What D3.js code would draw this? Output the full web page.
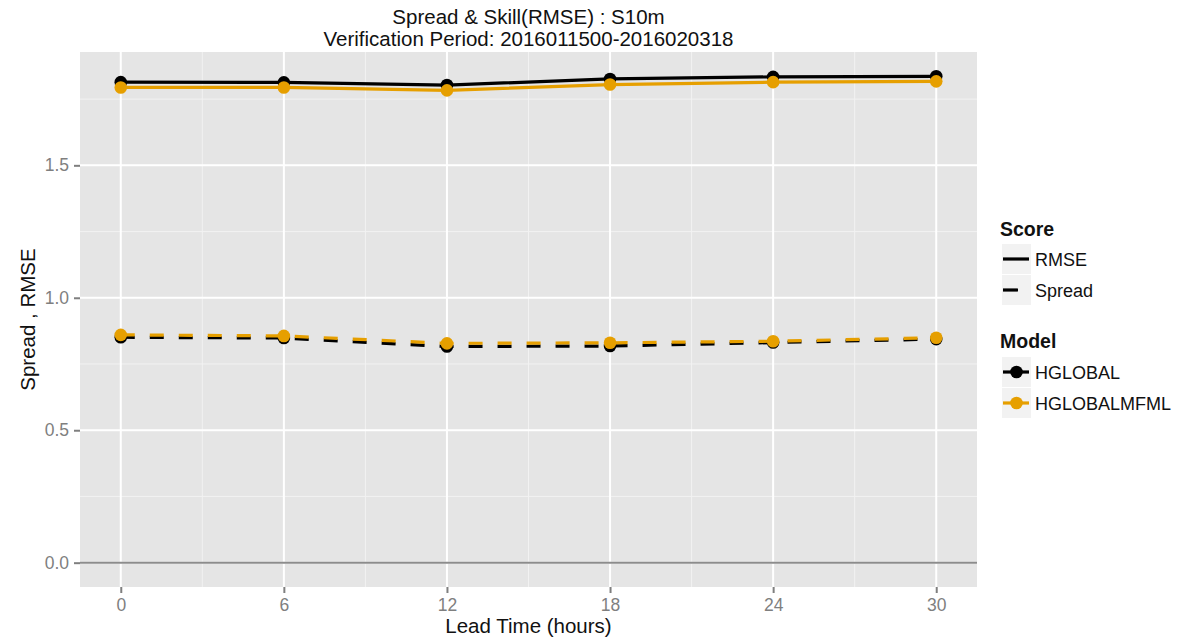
<!DOCTYPE html>
<html>
<head>
<meta charset="utf-8">
<script src="https://d3js.org/d3.v7.min.js"></script>
<style>
  body { margin: 0; background: #fff; }
  svg { font-family: "Liberation Sans", Arial, sans-serif; }
</style>
</head>
<body>
<svg id="chart" width="1190" height="640"></svg>
<script>
var lead_hours = [0, 6, 12, 18, 24, 30];
var x_ticks = [0, 6, 12, 18, 24, 30];
var y_ticks = [0.0, 0.5, 1.0, 1.5];
var models = ["HGLOBAL", "HGLOBALMFML"];
var scores = ["RMSE", "Spread"];
var model_colors = {"HGLOBAL": "#000000", "HGLOBALMFML": "#E69F00"};

var rmse_hglobal = [1.814, 1.813, 1.803, 1.826, 1.834, 1.836];
var rmse_hglobalmfml = [1.794, 1.794, 1.783, 1.805, 1.814, 1.817];
var spread_hglobal = [0.851, 0.848, 0.816, 0.818, 0.831, 0.844];
var spread_hglobalmfml = [0.860, 0.856, 0.828, 0.830, 0.836, 0.849];

var series = [
    {model: "HGLOBAL", score: "RMSE", values: rmse_hglobal},
    {model: "HGLOBAL", score: "Spread", values: spread_hglobal},
    {model: "HGLOBALMFML", score: "RMSE", values: rmse_hglobalmfml},
    {model: "HGLOBALMFML", score: "Spread", values: spread_hglobalmfml}
];

var svg = d3.select("svg#chart");
var panel = {left: 80, right: 977, top: 52, bottom: 587};

var all_vals = [].concat(rmse_hglobal, rmse_hglobalmfml, spread_hglobal, spread_hglobalmfml, [0]);
var ymax = d3.max(all_vals);
var ymin = 0;
var ypad = (ymax - ymin) * 0.05;
var xpad = 30 * 0.05;

var xscale = d3.scaleLinear()
    .domain([-xpad, 30 + xpad])
    .range([panel.left, panel.right]);
var yscale = d3.scaleLinear()
    .domain([ymin - ypad, ymax + ypad])
    .range([panel.bottom, panel.top]);

// panel background
svg.append("rect")
    .attr("x", panel.left).attr("y", panel.top)
    .attr("width", panel.right - panel.left)
    .attr("height", panel.bottom - panel.top)
    .attr("fill", "#e5e5e5");

// minor grid
var grid = svg.append("g");
[0.25, 0.75, 1.25, 1.75].forEach(function(v) {
    grid.append("line")
        .attr("x1", panel.left).attr("x2", panel.right)
        .attr("y1", yscale(v)).attr("y2", yscale(v))
        .attr("stroke", "#f2f2f2").attr("stroke-width", 1);
});
[3, 9, 15, 21, 27].forEach(function(v) {
    grid.append("line")
        .attr("y1", panel.top).attr("y2", panel.bottom)
        .attr("x1", xscale(v)).attr("x2", xscale(v))
        .attr("stroke", "#f2f2f2").attr("stroke-width", 1);
});
// major grid
y_ticks.forEach(function(v) {
    grid.append("line")
        .attr("x1", panel.left).attr("x2", panel.right)
        .attr("y1", yscale(v)).attr("y2", yscale(v))
        .attr("stroke", "#ffffff").attr("stroke-width", 2);
});
x_ticks.forEach(function(v) {
    grid.append("line")
        .attr("y1", panel.top).attr("y2", panel.bottom)
        .attr("x1", xscale(v)).attr("x2", xscale(v))
        .attr("stroke", "#ffffff").attr("stroke-width", 2);
});

// zero line
svg.append("line")
    .attr("x1", panel.left).attr("x2", panel.right)
    .attr("y1", yscale(0)).attr("y2", yscale(0))
    .attr("stroke", "#8c8c8c").attr("stroke-width", 2);

// lines and points
var line = d3.line()
    .x(function(d, i) { return xscale(lead_hours[i]); })
    .y(function(d) { return yscale(d); });

var g = svg.append("g").attr("class", "line_chart_paths");
models.forEach(function(model) {
    series.filter(function(s) { return s.model == model; }).forEach(function(s) {
        g.append("path")
            .datum(s.values)
            .attr("fill", "none")
            .attr("stroke", model_colors[model])
            .attr("stroke-width", 3.2)
            .attr("stroke-dasharray", s.score == "Spread" ? "14,15" : null)
            .attr("d", line);
        g.selectAll(null)
            .data(s.values)
            .enter().append("circle")
            .attr("cx", function(d, i) { return xscale(lead_hours[i]); })
            .attr("cy", function(d) { return yscale(d); })
            .attr("r", 6.3)
            .attr("fill", model_colors[model]);
    });
});

// axes
var xaxis = d3.axisBottom(xscale)
    .tickValues(x_ticks)
    .tickFormat(d3.format("d"))
    .tickSize(6)
    .tickSizeOuter(0);
var xg = svg.append("g")
    .attr("transform", "translate(0," + panel.bottom + ")")
    .call(xaxis);
xg.select(".domain").remove();
xg.selectAll(".tick line").attr("stroke", "#7f7f7f").attr("stroke-width", 2);
xg.selectAll(".tick text").attr("fill", "#7f7f7f").attr("font-size", 17.5)
    .attr("y", 12).attr("dy", "0.71em");

var yaxis = d3.axisLeft(yscale)
    .tickValues(y_ticks)
    .tickFormat(d3.format(".1f"))
    .tickSize(6)
    .tickSizeOuter(0);
var yg = svg.append("g")
    .attr("transform", "translate(" + panel.left + ",0)")
    .call(yaxis);
yg.select(".domain").remove();
yg.selectAll(".tick line").attr("stroke", "#7f7f7f").attr("stroke-width", 2);
yg.selectAll(".tick text").attr("fill", "#7f7f7f").attr("font-size", 17.5).attr("x", -11);

// titles
var cx = (panel.left + panel.right) / 2;
svg.append("text").attr("x", cx).attr("y", 24)
    .attr("text-anchor", "middle").attr("font-size", 20.5).attr("fill", "#111")
    .text("Spread & Skill(RMSE) : S10m");
svg.append("text").attr("x", cx).attr("y", 46)
    .attr("text-anchor", "middle").attr("font-size", 20.5).attr("fill", "#111")
    .text("Verification Period: 2016011500-2016020318");
svg.append("text").attr("x", cx).attr("y", 633)
    .attr("text-anchor", "middle").attr("font-size", 20.5).attr("fill", "#111")
    .text("Lead Time (hours)");
svg.append("text")
    .attr("transform", "translate(35," + ((panel.top + panel.bottom) / 2) + ") rotate(-90)")
    .attr("text-anchor", "middle").attr("font-size", 20.5).attr("fill", "#111")
    .text("Spread , RMSE");

// legend
var lg = svg.append("g").attr("transform", "translate(1000,0)");
lg.append("text").attr("x", 0).attr("y", 236)
    .attr("font-size", 19.5).attr("font-weight", "bold").attr("fill", "#111").text("Score");
scores.forEach(function(sc, i) {
    var y = 244 + i * 31;
    lg.append("rect").attr("x", 2).attr("y", y).attr("width", 29).attr("height", 30).attr("fill", "#f2f2f2");
    lg.append("line").attr("x1", 3).attr("x2", sc == "Spread" ? 18 : 29)
        .attr("y1", y + 15).attr("y2", y + 15)
        .attr("stroke", "#000").attr("stroke-width", 3.2);
    lg.append("text").attr("x", 35).attr("y", y + 21.5)
        .attr("font-size", 18).attr("fill", "#111").text(sc);
});
lg.append("text").attr("x", 0).attr("y", 348)
    .attr("font-size", 19.5).attr("font-weight", "bold").attr("fill", "#111").text("Model");
models.forEach(function(m, i) {
    var y = 357 + i * 31;
    lg.append("rect").attr("x", 2).attr("y", y).attr("width", 29).attr("height", 30).attr("fill", "#f2f2f2");
    lg.append("line").attr("x1", 3).attr("x2", 29)
        .attr("y1", y + 15).attr("y2", y + 15)
        .attr("stroke", model_colors[m]).attr("stroke-width", 3.2);
    lg.append("circle").attr("cx", 16.5).attr("cy", y + 15).attr("r", 6.3).attr("fill", model_colors[m]);
    lg.append("text").attr("x", 35).attr("y", y + 21.5)
        .attr("font-size", 18).attr("fill", "#111").text(m);
});
</script>
</body>
</html>
